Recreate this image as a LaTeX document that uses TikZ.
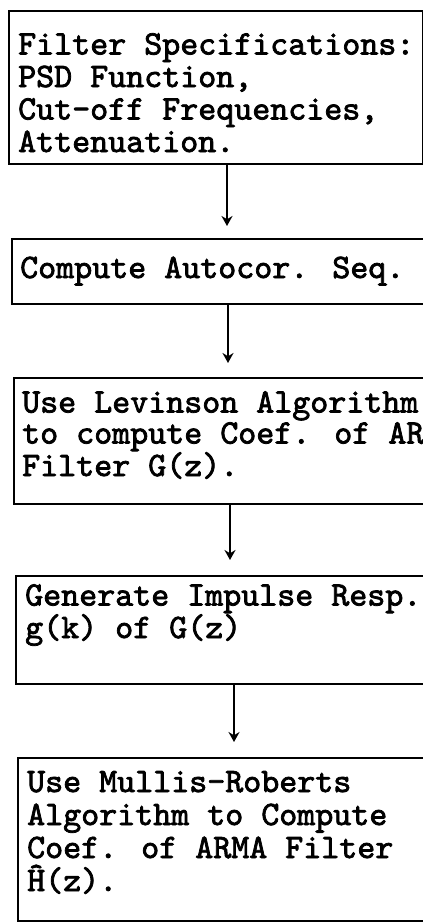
\documentclass[tikz,border=0pt]{standalone}
\usepackage{fontspec}
\usetikzlibrary{arrows.meta}
\newfontfamily\prt{lmmono10-regular.otf}[FakeBold=2.2]
\begin{document}
\begin{tikzpicture}[x=1pt,y=-1pt,
  box/.style={draw=black, line width=2pt, inner sep=0pt, anchor=north west, minimum width=440pt},
  txt/.style={anchor=base west, inner sep=0pt, align=left, font=\prt\fontsize{34.3}{32.5}\selectfont},
  arr/.style={line width=1.7pt, -{Stealth[length=10pt,width=11pt]}}]
\useasboundingbox (0,0) rectangle (423,922);
\fill[white] (0,0) rectangle (423,922);
\clip (0,0) rectangle (423,922);
\node[box, minimum width=413.5pt, minimum height=153pt] (b1) at (8,10) {};
\node[box, minimum height=65pt] (b2) at (11,238) {};
\node[box, minimum height=126pt] (b3) at (13,377) {};
\node[box, minimum height=108pt] (b4) at (15,575) {};
\node[box, minimum height=163pt] (b5) at (17,757) {};
% anchors are at the baseline of each text's last line
\node[txt] (t1) at (18,152) {Filter Specifications:\\PSD Function,\\Cut-off Frequencies,\\Attenuation.};
\node[txt] (t2) at (20,278) {Compute Autocor. Seq.};
\node[txt, font=\prt\fontsize{34.3}{31}\selectfont] (t3) at (22,476) {Use Levinson Algorithm\\to compute Coef. of AR\\Filter G(z).};
\node[txt, font=\prt\fontsize{34.3}{31}\selectfont] (t4) at (25,638) {Generate Impulse Resp.\\g(k) of G(z)};
\node[txt, font=\prt\fontsize{34.3}{33}\selectfont] (t5) at (27,891) {Use Mullis-Roberts\\Algorithm to Compute\\Coef. of ARMA Filter\\Ĥ(z).};
\coordinate (a1) at (227,0);
\coordinate (a2) at (228,0);
\coordinate (a3) at (230,0);
\coordinate (a4) at (234,0);
\draw[arr, shorten >=12pt] (b1.south -| a1) -- (b2.north -| a1);
\draw[arr, shorten >=14pt] (b2.south -| a2) -- (b3.north -| a2);
\draw[arr, shorten >=15pt] (b3.south -| a3) -- (b4.north -| a3);
\draw[arr, shorten >=15pt] (b4.south -| a4) -- (b5.north -| a4);
\end{tikzpicture}
\end{document}
